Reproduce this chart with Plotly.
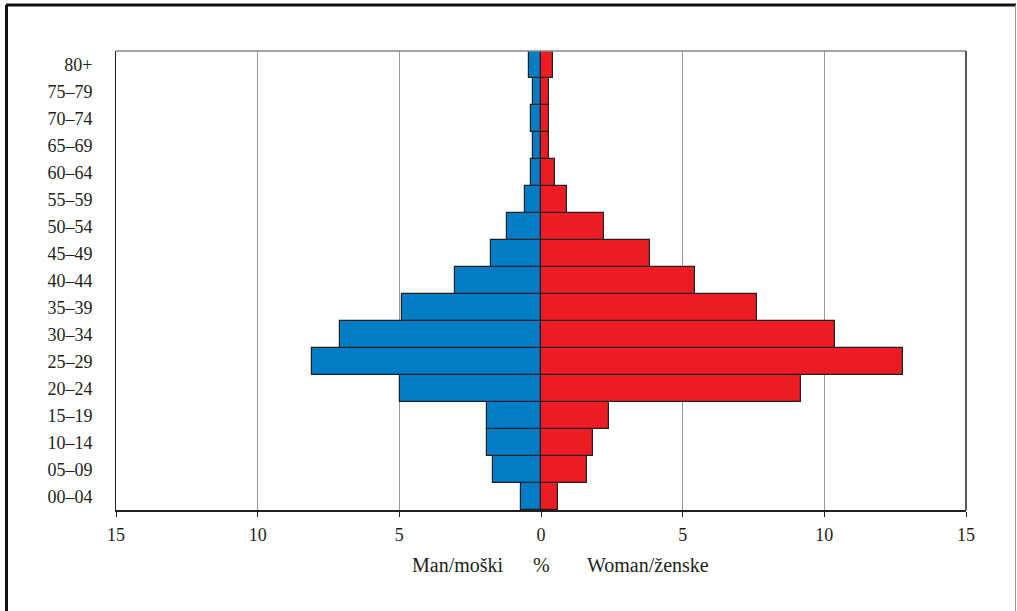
import plotly.graph_objects as go

age_groups = ["00–04", "05–09", "10–14", "15–19", "20–24", "25–29", "30–34", "35–39",
              "40–44", "45–49", "50–54", "55–59", "60–64", "65–69", "70–74", "75–79", "80+"]
men = [0.69, 1.68, 1.89, 1.89, 4.99, 8.09, 7.10, 4.92, 3.02, 1.75, 1.19, 0.55, 0.34, 0.27, 0.34, 0.27, 0.41]
women = [0.59, 1.63, 1.84, 2.41, 9.18, 12.77, 10.38, 7.63, 5.45, 3.83, 2.21, 0.93, 0.50, 0.29, 0.29, 0.29, 0.43]
tick_vals = [-15, -10, -5, 0, 5, 10, 15]
tick_text = ["15", "10", "5", "0", "5", "10", "15"]

FONT = "Liberation Serif"
W, H = 1017, 611
ML, MR, MT, MB = 116, 51, 51, 101
PW, PH = W - ML - MR, H - MT - MB

def px(x):
    return (x - ML) / PW

def py(y):
    return 1 - (y - MT) / PH

fig = go.Figure()
fig.add_trace(go.Bar(
    y=age_groups, x=[-v for v in men], orientation="h", name="Man/moški",
    marker=dict(color="#007DC5", line=dict(color="#231F20", width=1.2)),
))
fig.add_trace(go.Bar(
    y=age_groups, x=women, orientation="h", name="Woman/ženske",
    marker=dict(color="#ED1C24", line=dict(color="#231F20", width=1.2)),
))

fig.update_layout(
    width=W, height=H,
    margin=dict(l=ML, r=MR, t=MT, b=MB),
    paper_bgcolor="white", plot_bgcolor="white",
    barmode="relative", bargap=0,
    showlegend=False,
    font=dict(family=FONT, size=18, color="#231F20"),
    xaxis=dict(
        range=[-15, 15], tickvals=tick_vals, ticktext=tick_text,
        showgrid=True, gridcolor="#9a9a9a", gridwidth=1,
        zeroline=False, showline=True, linecolor="#231F20", linewidth=1.5,
        ticks="outside", ticklen=5, tickcolor="#231F20",
        ticklabelstandoff=3,
        tickfont=dict(family=FONT, size=18),
        fixedrange=True,
    ),
    yaxis=dict(
        categoryorder="array", categoryarray=age_groups,
        showgrid=False, zeroline=False, showline=True, linecolor="#231F20", linewidth=1,
        ticks="", ticklabelstandoff=19,
        tickfont=dict(family=FONT, size=18),
        range=[-0.5, len(age_groups) - 0.5],
        fixedrange=True,
    ),
)

shapes = []
# plot box: top (gray) and right (dark)
shapes.append(dict(type="line", xref="paper", yref="paper", x0=0, x1=1, y0=1, y1=1,
                   line=dict(color="#888888", width=1.5)))
shapes.append(dict(type="line", xref="paper", yref="paper", x0=1, x1=1, y0=0, y1=1,
                   line=dict(color="#231F20", width=1.5)))
# outer frame
shapes.append(dict(type="line", xref="paper", yref="paper", x0=px(6), x1=px(1016), y0=py(5), y1=py(5),
                   line=dict(color="#111111", width=3)))
shapes.append(dict(type="line", xref="paper", yref="paper", x0=px(6.5), x1=px(6.5), y0=py(5), y1=py(620),
                   line=dict(color="#111111", width=3)))
shapes.append(dict(type="line", xref="paper", yref="paper", x0=px(1015.5), x1=px(1015.5), y0=py(5), y1=py(620),
                   line=dict(color="#999999", width=1)))
fig.update_layout(shapes=shapes)

ann_y = py(565)
for text, xpos in [("Man/moški", 458), ("%", 541), ("Woman/ženske", 648)]:
    fig.add_annotation(text=text, xref="paper", yref="paper", x=px(xpos), y=ann_y,
                       showarrow=False, xanchor="center", yanchor="middle",
                       font=dict(family=FONT, size=20, color="#231F20"))

fig.write_html("out.html", config={"displayModeBar": False},
               post_script="document.body.style.margin='0';")
